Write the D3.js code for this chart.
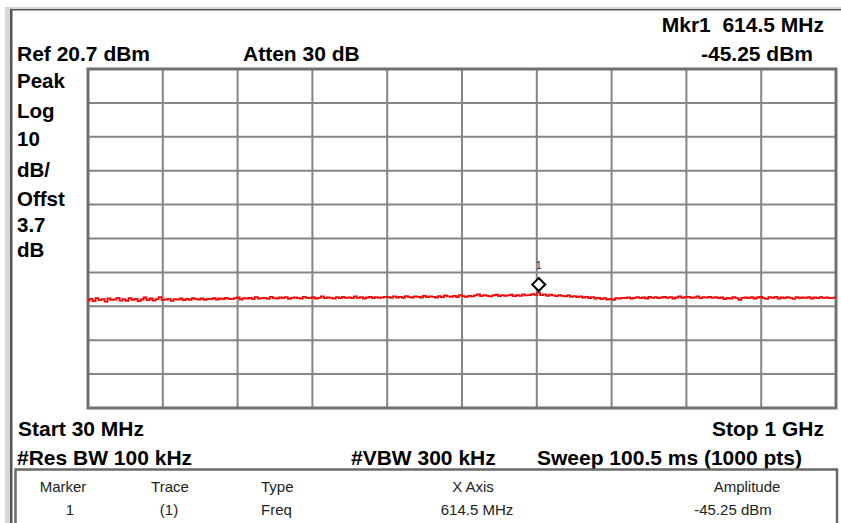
<!DOCTYPE html>
<html><head><meta charset="utf-8">
<script src="https://cdn.jsdelivr.net/npm/d3@7"></script>
<style>
body{margin:0;background:#fff;}
svg{display:block;}
text{font-family:"Liberation Sans",Arial,sans-serif;}
</style></head>
<body>
<svg id="c" width="841" height="523"></svg>
<script>
// ---- data ----
const refLevel = 20.7;          // dBm (top of screen)
const dbPerDiv = 10;
const numDivs = 10;
const startMHz = 30;
const stopMHz = 1000;
const markerFreq = 614.5;       // MHz
const markerAmp = -45.25;       // dBm
const leftLabels = ["Peak","Log","10","dB/","Offst","3.7","dB"];
const tableHeaders = ["Marker","Trace","Type","X Axis","Amplitude"];
const tableValues = ["1","(1)","Freq","614.5 MHz","-45.25 dBm"];
// trace amplitudes (dBm), evenly spaced from start to stop
const trace = [
-47.6,-47.1,-47.8,-46.9,-47.5,-47.2,-47.9,-47.0,-47.4,-47.3,
-46.8,-47.6,-47.2,-47.7,-46.9,-47.4,-47.1,-47.8,-47.3,-46.7,
-47.5,-47.0,-47.6,-47.2,-46.6,-47.4,-47.3,-47.1,-47.7,-47.2,
-47.3,-47.0,-47.5,-47.1,-47.4,-46.9,-47.2,-47.3,-47.0,-47.4,
-47.1,-47.2,-46.9,-47.3,-47.0,-47.2,-46.8,-47.1,-47.2,-46.9,
-46.7,-47.3,-46.9,-47.0,-46.8,-47.2,-46.6,-47.0,-46.9,-46.8,
-47.1,-46.5,-46.9,-47.0,-46.7,-46.9,-46.6,-47.1,-46.8,-46.7,
-46.9,-47.0,-46.5,-46.8,-46.9,-46.6,-47.0,-46.8,-46.4,-46.9,
-46.7,-46.8,-47.0,-46.6,-46.9,-46.5,-46.8,-46.7,-46.9,-46.4,
-46.8,-46.6,-47.0,-46.7,-46.5,-46.9,-46.6,-46.8,-46.7,-46.5,
-46.6,-46.8,-46.4,-46.7,-46.5,-46.8,-46.3,-46.6,-46.7,-46.4,
-46.5,-46.7,-46.2,-46.6,-46.4,-46.5,-46.7,-46.3,-46.6,-46.1,
-46.4,-46.5,-46.2,-46.6,-46.0,-46.3,-46.5,-46.2,-46.4,-46.1,
-45.8,-46.3,-46.0,-46.2,-46.4,-46.1,-45.9,-46.3,-46.0,-46.2,
-46.1,-45.9,-46.3,-46.0,-46.2,-45.8,-46.1,-46.0,-45.7,-45.9,
-45.25,-46.0,-45.8,-46.2,-45.9,-46.1,-46.3,-46.0,-46.2,-46.4,
-46.1,-46.5,-46.3,-46.6,-46.4,-46.7,-46.5,-46.9,-46.6,-47.0,
-46.8,-47.2,-46.9,-47.3,-47.1,-47.4,-46.9,-47.0,-46.8,-46.9,
-46.7,-47.0,-46.8,-46.6,-46.9,-46.7,-47.0,-46.5,-46.8,-46.6,
-46.9,-46.7,-46.5,-46.8,-46.6,-47.0,-46.7,-46.4,-46.8,-46.6,
-46.5,-46.8,-46.7,-46.4,-46.9,-46.6,-46.7,-46.5,-46.8,-46.6,
-46.9,-46.7,-47.2,-46.8,-47.0,-46.6,-46.9,-47.4,-46.8,-46.7,
-46.9,-46.6,-47.0,-46.7,-46.5,-46.9,-47.1,-46.6,-46.8,-46.5,
-47.0,-46.7,-46.9,-46.6,-46.8,-47.1,-46.6,-46.9,-46.7,-46.8,
-46.6,-47.0,-46.7,-46.9,-46.6,-46.8,-46.7,-46.9,-46.8,-46.7
];

// ---- layout ----
const svg = d3.select("#c");
const X0 = 88, X1 = 836, Y0 = 69, Y1 = 408;
const bottomLevel = refLevel - dbPerDiv * numDivs;
const x = d3.scaleLinear().domain([startMHz, stopMHz]).range([X0, X1]);
const y = d3.scaleLinear().domain([bottomLevel, refLevel]).range([Y1, Y0]);
const idx = d3.scaleLinear().domain([0, trace.length - 1]).range([startMHz, stopMHz]);

// outer window frame
svg.append("rect").attr("x",5).attr("y",7).attr("width",836).attr("height",516).attr("fill","#d6d6d6");
svg.append("rect").attr("x",10).attr("y",9).attr("width",831).attr("height",514).attr("fill","#555");
svg.append("rect").attr("x",12.5).attr("y",10.5).attr("width",828.5).attr("height",512.5).attr("fill","#fff");

// grid
const g = svg.append("g");
const xTicks = d3.range(numDivs + 1).map(i => startMHz + i * (stopMHz - startMHz) / numDivs);
const yTicks = d3.range(numDivs + 1).map(i => refLevel - i * dbPerDiv);
g.selectAll("line.v").data(xTicks.slice(1, -1)).join("line")
  .attr("x1", d => x(d)).attr("x2", d => x(d)).attr("y1", Y0).attr("y2", Y1)
  .attr("stroke", "#858585").attr("stroke-width", 2);
g.selectAll("line.h").data(yTicks.slice(1, -1)).join("line")
  .attr("y1", d => y(d)).attr("y2", d => y(d)).attr("x1", X0).attr("x2", X1)
  .attr("stroke", "#858585").attr("stroke-width", 2);
g.append("rect").attr("x", X0).attr("y", Y0).attr("width", X1 - X0).attr("height", Y1 - Y0)
  .attr("fill", "none").attr("stroke", "#707070").attr("stroke-width", 3);

// trace
const line = d3.line().x((d, i) => x(idx(i))).y(d => y(d)).curve(d3.curveStep);
svg.append("path").datum(trace).attr("d", line)
  .attr("fill", "none").attr("stroke", "#ff0000").attr("stroke-width", 1.8);

// marker
const mx = x(markerFreq), my = y(markerAmp) - 8;
svg.append("path")
  .attr("d", `M${mx},${my-6.5}L${mx+6.5},${my}L${mx},${my+6.5}L${mx-6.5},${my}Z`)
  .attr("fill", "#fff").attr("stroke", "#000").attr("stroke-width", 2);
svg.append("text").attr("x", mx).attr("y", my - 16).attr("text-anchor", "middle")
  .attr("font-size", 10).attr("fill", "#1a1a40").text("1");

// header/footer texts
function t(txt, xx, yy, anchor, size, weight, fill) {
  svg.append("text").attr("x", xx).attr("y", yy).attr("text-anchor", anchor || "start")
    .attr("font-size", size || 21).attr("font-weight", weight || "bold")
    .attr("fill", fill || "#000").text(txt);
}
t("Ref 20.7 dBm", 17, 61);
t("Atten 30 dB", 243, 61);
t("Mkr1\u00a0\u00a0614.5 MHz", 824, 31.5, "end");
t("-45.25 dBm", 813, 61, "end");
const leftY = [88.3, 118.3, 146, 176.5, 205.5, 231.5, 256.5];
leftLabels.forEach((s, i) => t(s, 17, leftY[i], "start", 20.5));
t("Start 30 MHz", 18, 436);
t("Stop 1 GHz", 824, 436, "end");
t("#Res BW 100 kHz", 17, 465);
t("#VBW 300 kHz", 351, 465);
t("Sweep 100.5 ms (1000 pts)", 537, 465);

// table
svg.append("path").attr("d", "M15.5,523V469.5H837V523")
  .attr("fill", "none").attr("stroke", "#6a6a6a").attr("stroke-width", 2.5);
const colX = [63, 170, 261, 473, 747];
const colAnchor = ["middle", "middle", "start", "middle", "middle"];
tableHeaders.forEach((s, i) => t(s, colX[i], 492, colAnchor[i], 15, "normal", "#222"));
const valX = [70, 169, 261, 477, 733];
tableValues.forEach((s, i) => t(s, valX[i], 515, colAnchor[i], 15, "normal", "#222"));
</script>
</body></html>
